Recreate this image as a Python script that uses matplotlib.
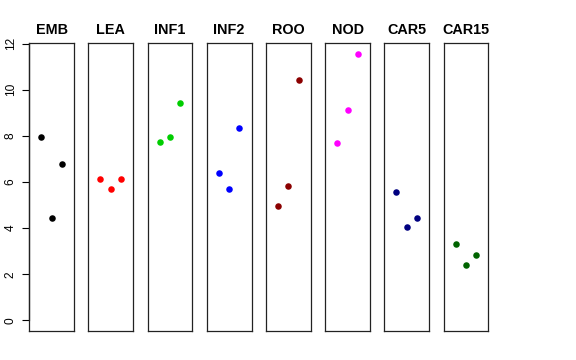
import matplotlib
matplotlib.use("Agg")
import matplotlib.pyplot as plt

plt.rcParams['font.family'] = ['Liberation Sans', 'DejaVu Sans']

categories = ["EMB", "LEA", "INF1", "INF2", "ROO", "NOD", "CAR5", "CAR15"]
colors = ["#000000", "#FF0000", "#00CD00", "#0000FF", "#8B0000", "#FF00FF", "#000080", "#006400"]
values = {
    "EMB":   [7.93, 4.45, 6.76],
    "LEA":   [6.11, 5.68, 6.15],
    "INF1":  [7.73, 7.93, 9.43],
    "INF2":  [6.40, 5.70, 8.33],
    "ROO":   [4.94, 5.82, 10.41],
    "NOD":   [7.67, 9.11, 11.55],
    "CAR5":  [5.55, 4.06, 4.43],
    "CAR15": [3.31, 2.41, 2.84],
}
replicates = [1, 2, 3]
yticks = [0, 2, 4, 6, 8, 10, 12]

W, H = 576, 360
fig = plt.figure(figsize=(W / 100, H / 100), dpi=100)

ymax = max(max(v) for v in values.values())
ylo, yhi = 0 - 0.04 * ymax, ymax + 0.04 * ymax
xlo, xhi = 0 - 0.16, 4 + 0.16

left0, step, pw = 29.2, 59.2, 44.7
top, bottom = 43.3, 331.0
for i, (cat, col) in enumerate(zip(categories, colors)):
    l = left0 + i * step
    ax = fig.add_axes([l / W, 1 - bottom / H, pw / W, (bottom - top) / H])
    ax.plot(replicates, values[cat], 'o', color=col, markersize=4.7, markeredgewidth=0)
    ax.set_xlim(xlo, xhi)
    ax.set_ylim(ylo, yhi)
    ax.set_xticks([])
    for s in ax.spines.values():
        s.set_linewidth(0.9)
        s.set_color("#222222")
    ax.set_title(cat, fontsize=10.4, fontweight='bold', pad=6.5)
    if i == 0:
        ax.set_yticks(yticks)
        ax.set_yticklabels([str(t) for t in yticks], rotation=90, va='center', fontsize=8.6)
        ax.tick_params(axis='y', length=5.0, width=0.8, pad=4)
        ax.spines['left'].set_visible(False)
        ax.plot([xlo, xlo], [0, 12], color='#222222', lw=0.9, clip_on=False)
        ax.plot([xlo, xlo], [ylo, yhi], color='#222222', lw=0.9, clip_on=False)
    else:
        ax.set_yticks([])

fig.savefig("out.png", dpi=100)
